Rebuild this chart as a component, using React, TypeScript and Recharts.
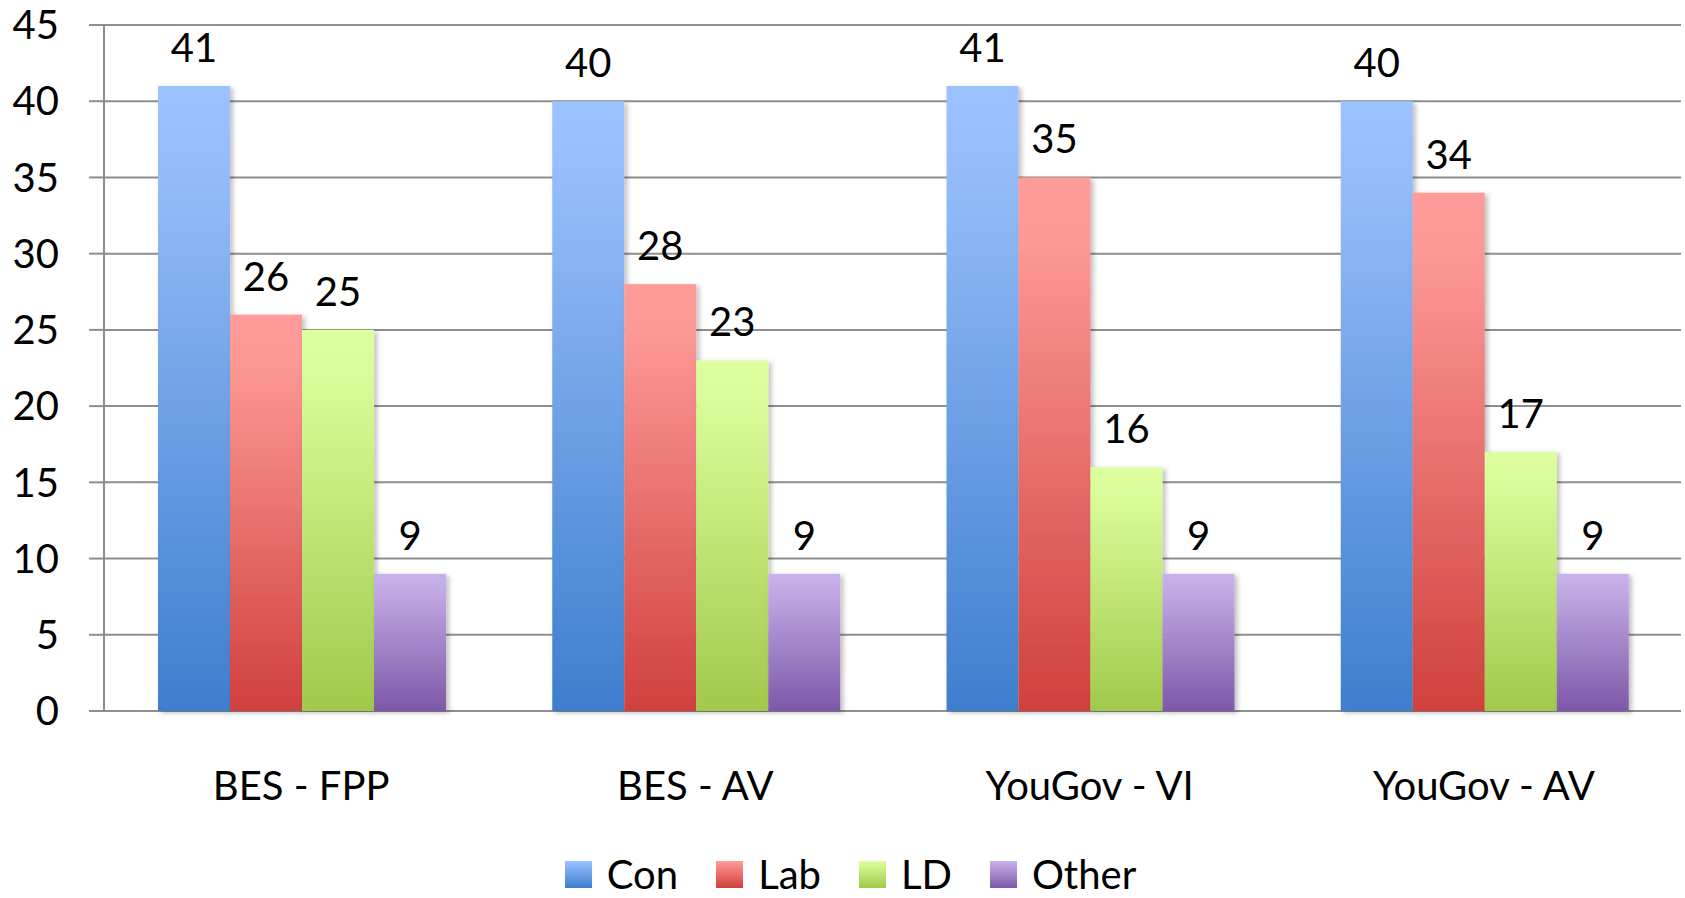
import React from 'react';
import { BarChart, Bar, XAxis, YAxis, CartesianGrid, Legend, LabelList } from 'recharts';

const categories = ['BES - FPP', 'BES - AV', 'YouGov - VI', 'YouGov - AV'];
const conValues = [41, 40, 41, 40];
const labValues = [26, 28, 35, 34];
const ldValues = [25, 23, 16, 17];
const otherValues = [9, 9, 9, 9];
const yTicks = [0, 5, 10, 15, 20, 25, 30, 35, 40, 45];
const boundaryTicks = [0, 1, 2, 3, 4];

const seriesList = [
  { key: 'Con', grad: 'gCon', top: '#9CC3FF', mid: '#96BDFB', bottom: '#3E7ECD' },
  { key: 'Lab', grad: 'gLab', top: '#FF9B99', mid: '#FC9896', bottom: '#D0403D' },
  { key: 'LD', grad: 'gLD', top: '#DDFF9F', mid: '#D9FC99', bottom: '#A0C94A' },
  { key: 'Other', grad: 'gOther', top: '#C9B2EC', mid: '#C2AAE5', bottom: '#7D58A8' },
];

const data = categories.map((c, i) => ({
  name: c,
  pos: i + 0.5,
  Con: conValues[i],
  Lab: labValues[i],
  LD: ldValues[i],
  Other: otherValues[i],
}));

const FONT = 'Lato, "Open Sans", sans-serif';
const GRID = '#8E8E8E';

const ShadowBar = (props: any) => {
  const { x, y, width, height, fill } = props;
  if (!height || height <= 0) return null;
  return <rect x={x} y={y} width={width} height={height} fill={fill} filter="url(#barShadow)" />;
};

const LegendContent = () => (
  <div
    style={{
      display: 'flex',
      justifyContent: 'center',
      alignItems: 'center',
      height: 48,
      fontFamily: FONT,
      fontSize: 40,
      color: '#000',
      paddingLeft: 20,
      boxSizing: 'border-box',
    }}
  >
    {seriesList.map((s, i) => (
      <div key={s.key} style={{ display: 'flex', alignItems: 'center', marginRight: i < seriesList.length - 1 ? 38 : 0 }}>
        <svg width={27} height={27} style={{ marginRight: 15 }}>
          <defs>
            <linearGradient id={`lg${s.key}`} x1="0" y1="0" x2="0" y2="1">
              <stop offset="0" stopColor={s.top} />
              <stop offset="1" stopColor={s.bottom} />
            </linearGradient>
          </defs>
          <rect x={0} y={0} width={27} height={27} fill={`url(#lg${s.key})`} />
        </svg>
        <span style={{ lineHeight: '48px' }}>{s.key}</span>
      </div>
    ))}
  </div>
);

export default function App() {
  return (
    <div style={{ position: 'absolute', left: 0, top: 0, width: 1685, height: 898, background: '#fff' }}>
      <BarChart
        width={1685}
        height={898}
        data={data}
        margin={{ top: 25, right: 4, left: 0, bottom: 0 }}
        barCategoryGap="13.7%"
        barGap={0}
      >
        <defs>
          {seriesList.map((s) => (
            <linearGradient key={s.grad} id={s.grad} x1="0" y1="0" x2="0" y2="1">
              <stop offset="0" stopColor={s.top} />
              <stop offset="0.12" stopColor={s.mid} />
              <stop offset="1" stopColor={s.bottom} />
            </linearGradient>
          ))}
          <filter id="barShadow" x="-10%" y="-5%" width="130%" height="115%">
            <feDropShadow dx="3" dy="2" stdDeviation="2.5" floodColor="#000" floodOpacity="0.25" />
          </filter>
        </defs>
        <CartesianGrid vertical={false} stroke={GRID} strokeWidth={2} />
        <XAxis
          xAxisId="ticks"
          type="number"
          dataKey="pos"
          domain={[0, 4]}
          ticks={boundaryTicks}
          height={0}
          tickSize={15}
          tickFormatter={() => ''}
          stroke={GRID}
          axisLine={{ stroke: GRID, strokeWidth: 2 }}
          tickLine={{ stroke: GRID, strokeWidth: 2 }}
        />
        <XAxis
          xAxisId="cat"
          dataKey="name"
          height={139}
          axisLine={false}
          tickLine={false}
          tickSize={0}
          tickMargin={61}
          tick={{ fill: '#000', fontSize: 40, fontFamily: FONT }}
        />
        <YAxis
          domain={[0, 45]}
          ticks={yTicks}
          width={104}
          tickSize={15}
          tickMargin={30}
          axisLine={{ stroke: GRID, strokeWidth: 2 }}
          tickLine={{ stroke: GRID, strokeWidth: 2 }}
          tick={{ fill: '#000', fontSize: 40, fontFamily: FONT }}
          interval={0}
        />
        <Legend verticalAlign="bottom" height={48} content={<LegendContent />} />
        {seriesList.map((s) => (
          <Bar
            key={s.key}
            xAxisId="cat"
            dataKey={s.key}
            fill={`url(#${s.grad})`}
            isAnimationActive={false}
            shape={<ShadowBar />}
          >
            <LabelList dataKey={s.key} position="top" offset={24} fill="#000" fontSize={40} fontFamily={FONT} />
          </Bar>
        ))}
      </BarChart>
    </div>
  );
}
